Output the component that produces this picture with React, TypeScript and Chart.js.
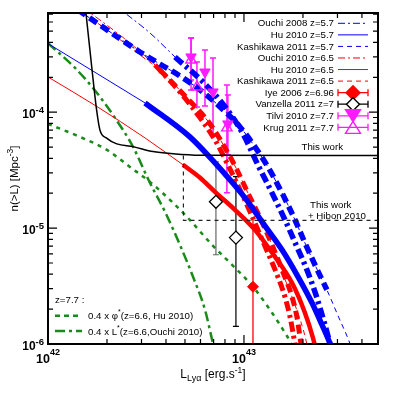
import React, { useEffect, useRef } from 'react';
import { Chart, registerables } from 'chart.js';

Chart.register(...registerables);

const FONT = '"Liberation Sans", Arial, Helvetica, sans-serif';

// ---- axes (log10 units) ----
const xLogMin = 42;
const xLogMax = 43.684;
const yLogMin = -6;
const yLogMax = -3.144;
const xDecades = [42, 43];
const yDecades = [-6, -5, -4];
const tickMultipliers = [1, 2, 3, 4, 5, 6, 7, 8, 9];
const xTickExponents = ['42', '43'];
const yTickExponents = ['-6', '-5', '-4'];

// ---- curves: log10 L [erg/s] and log10 n(>L) [Mpc^-3] ----
const thisWorkLogL = [42.191, 42.223, 42.248, 42.265, 42.299, 42.351, 42.434, 42.536, 42.638, 42.776, 43.7];
const thisWorkLogN = [-3.1, -3.607, -3.98, -4.153, -4.224, -4.273, -4.297, -4.34, -4.359, -4.372, -4.374];

const hibonLogL = [42.691, 42.691, 43.7];
const hibonLogN = [-4.374, -4.934, -4.934];

// Ouchi 2008 z=5.7
const ouchi08ThinLogL = [42.342, 42.393, 42.52, 42.648];
const ouchi08ThinLogN = [-3.075, -3.144, -3.316, -3.523];
const ouchi08ThickLogL = [42.648, 42.801, 42.908, 42.995, 43.071, 43.143, 43.209, 43.27, 43.321, 43.367, 43.413, 43.439, 43.449];
const ouchi08ThickLogN = [-3.523, -3.756, -3.963, -4.187, -4.454, -4.696, -4.928, -5.161, -5.359, -5.575, -5.834, -5.997, -6.066];

// Hu 2010 z=5.7
const hu57ThinLogL = [42.0, 42.245, 42.495];
const hu57ThinLogN = [-3.408, -3.661, -3.92];
const hu57ThickLogL = [42.495, 42.724, 42.852, 42.929, 43.005, 43.107, 43.194, 43.276, 43.347, 43.398, 43.439, 43.449];
const hu57ThickLogN = [-3.92, -4.213, -4.437, -4.584, -4.739, -4.98, -5.187, -5.42, -5.644, -5.834, -5.997, -6.049];

// Kashikawa 2011 z=5.7
const kash57ThinLogL = [42.153, 42.25, 42.469, 42.571, 42.673, 42.776, 42.878, 42.98, 43.056, 43.122, 43.194, 43.26, 43.311, 43.367, 43.423, 43.48, 43.541, 43.551];
const kash57ThinLogN = [-3.118, -3.23, -3.48, -3.584, -3.687, -3.808, -3.954, -4.127, -4.299, -4.472, -4.696, -4.928, -5.127, -5.334, -5.532, -5.756, -5.997, -6.049];
const kash57ThickLogL = [42.153, 42.25, 42.469, 42.571, 42.673, 42.776, 42.878, 42.98, 43.056, 43.122, 43.194, 43.26, 43.311, 43.367, 43.423];
const kash57ThickLogN = [-3.118, -3.23, -3.48, -3.584, -3.687, -3.808, -3.954, -4.127, -4.299, -4.472, -4.696, -4.928, -5.127, -5.334, -5.532];

// Ouchi 2010 z=6.5
const ouchi10ThinLogL = [42.179, 42.265, 42.418, 42.546];
const ouchi10ThinLogN = [-3.101, -3.204, -3.403, -3.592];
const ouchi10ThickLogL = [42.546, 42.673, 42.776, 42.852, 42.918, 42.98, 43.031, 43.071, 43.122, 43.173, 43.209, 43.235, 43.26, 43.265];
const ouchi10ThickLogN = [-3.592, -3.825, -4.049, -4.239, -4.454, -4.67, -4.859, -5.015, -5.213, -5.42, -5.592, -5.765, -5.997, -6.049];

// Hu 2010 z=6.5
const hu65ThinLogL = [42.0, 42.245, 42.495, 42.689];
const hu65ThinLogN = [-3.696, -3.946, -4.222, -4.454];
const hu65ThickLogL = [42.689, 42.776, 42.852, 42.954, 43.056, 43.158, 43.245, 43.311, 43.352, 43.367];
const hu65ThickLogN = [-4.454, -4.566, -4.687, -4.842, -5.015, -5.247, -5.472, -5.73, -5.946, -6.049];

// Kashikawa 2011 z=6.5
const kash65ThinLogL = [42.143, 42.316, 42.469, 42.571, 42.699, 42.827, 42.898, 42.959, 43.02, 43.092, 43.143, 43.194, 43.26, 43.311, 43.327];
const kash65ThinLogN = [-3.101, -3.308, -3.506, -3.635, -3.859, -4.101, -4.291, -4.48, -4.696, -4.946, -5.144, -5.377, -5.661, -5.928, -6.049];
const kash65ThickLogL = [42.571, 42.699, 42.827, 42.898, 42.959, 43.02, 43.092, 43.143, 43.194, 43.245, 43.27, 43.291, 43.296];
const kash65ThickLogN = [-3.635, -3.859, -4.101, -4.291, -4.48, -4.696, -4.946, -5.144, -5.359, -5.592, -5.765, -5.997, -6.049];

// z=7.7 expectations
const phiScaledLogL = [42.0, 42.163, 42.301, 42.418, 42.52, 42.622, 42.704, 42.842, 42.954, 43.046, 43.143, 43.209, 43.24, 43.25];
const phiScaledLogN = [-4.101, -4.213, -4.325, -4.472, -4.601, -4.756, -4.894, -5.153, -5.342, -5.506, -5.73, -5.903, -5.997, -6.049];
const lstarScaledLogL = [42.0, 42.138, 42.25, 42.342, 42.434, 42.52, 42.597, 42.673, 42.74, 42.801, 42.842, 42.852];
const lstarScaledLogN = [-3.405, -3.618, -3.834, -4.049, -4.299, -4.609, -4.859, -5.144, -5.42, -5.704, -5.997, -6.066];

// ---- data points with error bars ----
const iyeLogL = [43.046];
const iyeLogN = [-5.506];
const iyeHiN = [-4.928];
const iyeLoN = [-7.0];

const vanzellaLogL = [42.857, 42.959];
const vanzellaLogN = [-4.773, -5.082];
const vanzellaHiN = [-4.428, -4.555];
const vanzellaLoN = [-5.23, -5.848];

const tilviLogL = [42.73, 42.801, 42.842, 42.918];
const tilviLogN = [-3.523, -3.653, -3.825, -4.101];
const tilviHiN = [-3.359, -3.463, -3.532, -3.851];
const tilviLoN = [-3.808, -3.946, -4.196, -4.368];

const krugLogL = [42.73, 42.76, 42.913];
const krugLogN = [-3.549, -3.782, -4.135];
const krugHiN = [-3.359, -3.566, -3.765];
const krugLoN = [-3.722, -3.954, -4.696];

// ---- legend texts ----
const legendLabels = [
  'Ouchi 2008 z=5.7',
  'Hu 2010 z=5.7',
  'Kashikawa 2011 z=5.7',
  'Ouchi 2010 z=6.5',
  'Hu 2010 z=6.5',
  'Kashikawa 2011 z=6.5',
  'Iye 2006 z=6.96',
  'Vanzella 2011 z=7',
  'Tilvi 2010 z=7.7',
  'Krug 2011 z=7.7',
];

const BLUE = '#0000ff';
const RED = '#ff0000';
const GREEN = '#1a8a1a';
const MAGENTA = '#ff1aff';
const DASH = [9, 5];
const DASHDOT = [10, 4, 3, 4];
const THIN_DASH = [5, 4];
const THIN_DASHDOT = [7, 3, 2, 3];

const P = (v: number) => Math.pow(10, v);
const toPts = (lx: number[], ly: number[]) => lx.map((v, i) => ({ x: P(v), y: P(ly[i]) }));

function curve(lx: number[], ly: number[], color: string, width: number, dash: number[] = [], smooth = true): any {
  return {
    data: toPts(lx, ly),
    showLine: true,
    borderColor: color,
    backgroundColor: color,
    borderWidth: width,
    borderDash: dash,
    borderCapStyle: 'butt',
    borderJoinStyle: 'round',
    pointRadius: 0,
    pointHoverRadius: 0,
    pointHitRadius: 0,
    fill: false,
    cubicInterpolationMode: smooth ? 'monotone' : 'default',
    tension: 0,
    clip: 0,
  };
}

function markers(lx: number[], ly: number[], style: string, radius: number, fillC: string, strokeC: string, bw: number, rotation = 0): any {
  return {
    data: toPts(lx, ly),
    showLine: false,
    pointStyle: style,
    pointRadius: radius,
    pointHoverRadius: radius,
    pointBackgroundColor: fillC,
    pointBorderColor: strokeC,
    pointBorderWidth: bw,
    pointRotation: rotation,
    clip: 0,
  };
}

const errorSets = [
  { lx: iyeLogL, hi: iyeHiN, lo: iyeLoN, colors: [RED], caps: false, width: 1.3 },
  { lx: vanzellaLogL, hi: vanzellaHiN, lo: vanzellaLoN, colors: ['#666666', '#000000'], caps: true, width: 1.2 },
  { lx: tilviLogL, hi: tilviHiN, lo: tilviLoN, colors: [MAGENTA, MAGENTA, MAGENTA, MAGENTA], caps: true, width: 1.5 },
  { lx: krugLogL, hi: krugHiN, lo: krugLoN, colors: [MAGENTA, MAGENTA, MAGENTA], caps: true, width: 1.5 },
];

type Seg = { t: string; size: number; dy?: number; bold?: boolean; italic?: boolean };
function fontOf(s: Seg) {
  return `${s.italic ? 'italic ' : ''}${s.bold ? 'bold ' : ''}${s.size}px ${FONT}`;
}
function drawSegs(ctx: CanvasRenderingContext2D, segs: Seg[], x: number, y: number, align: string) {
  let w = 0;
  for (const s of segs) {
    ctx.font = fontOf(s);
    w += ctx.measureText(s.t).width;
  }
  let cx = align === 'left' ? x : align === 'center' ? x - w / 2 : x - w;
  ctx.textAlign = 'left';
  ctx.textBaseline = 'alphabetic';
  for (const s of segs) {
    ctx.font = fontOf(s);
    ctx.fillText(s.t, cx, y + (s.dy || 0));
    cx += ctx.measureText(s.t).width;
  }
}

function hLine(ctx: CanvasRenderingContext2D, x0: number, x1: number, y: number, color: string, width: number, dash: number[]) {
  ctx.save();
  ctx.strokeStyle = color;
  ctx.lineWidth = width;
  ctx.setLineDash(dash);
  ctx.beginPath();
  ctx.moveTo(x0, y);
  ctx.lineTo(x1, y);
  ctx.stroke();
  ctx.restore();
}

function errLegend(ctx: CanvasRenderingContext2D, x0: number, x1: number, y: number, color: string) {
  ctx.save();
  ctx.strokeStyle = color;
  ctx.lineWidth = 1.3;
  ctx.beginPath();
  ctx.moveTo(x0, y);
  ctx.lineTo(x1, y);
  ctx.moveTo(x0, y - 3.5);
  ctx.lineTo(x0, y + 3.5);
  ctx.moveTo(x1, y - 3.5);
  ctx.lineTo(x1, y + 3.5);
  ctx.stroke();
  ctx.restore();
}

function diamond(ctx: CanvasRenderingContext2D, x: number, y: number, r: number, fillC: string, strokeC: string) {
  ctx.save();
  ctx.beginPath();
  ctx.moveTo(x, y - r);
  ctx.lineTo(x + r, y);
  ctx.lineTo(x, y + r);
  ctx.lineTo(x - r, y);
  ctx.closePath();
  ctx.fillStyle = fillC;
  ctx.fill();
  ctx.strokeStyle = strokeC;
  ctx.lineWidth = 1.4;
  ctx.stroke();
  ctx.restore();
}

function triangle(ctx: CanvasRenderingContext2D, x: number, y: number, w: number, h: number, down: boolean, fillC: string | null, strokeC: string) {
  ctx.save();
  ctx.beginPath();
  if (down) {
    ctx.moveTo(x - w / 2, y - h / 2);
    ctx.lineTo(x + w / 2, y - h / 2);
    ctx.lineTo(x, y + h / 2);
  } else {
    ctx.moveTo(x - w / 2, y + h / 2);
    ctx.lineTo(x + w / 2, y + h / 2);
    ctx.lineTo(x, y - h / 2);
  }
  ctx.closePath();
  if (fillC) {
    ctx.fillStyle = fillC;
    ctx.fill();
  }
  ctx.strokeStyle = strokeC;
  ctx.lineWidth = 1.4;
  ctx.stroke();
  ctx.restore();
}

const errorBarsPlugin = {
  id: 'errorBars',
  beforeDatasetsDraw(chart: any) {
    const { ctx, chartArea: a, scales } = chart;
    const xs = scales.x;
    const ys = scales.y;
    ctx.save();
    ctx.beginPath();
    ctx.rect(a.left, a.top, a.right - a.left, a.bottom - a.top);
    ctx.clip();
    for (const s of errorSets) {
      ctx.lineWidth = s.width;
      s.lx.forEach((lx: number, i: number) => {
        const px = xs.getPixelForValue(P(lx));
        const ph = ys.getPixelForValue(P(s.hi[i]));
        const pl = ys.getPixelForValue(P(s.lo[i]));
        ctx.strokeStyle = s.colors[i];
        ctx.beginPath();
        ctx.moveTo(px, ph);
        ctx.lineTo(px, pl);
        if (s.caps) {
          ctx.moveTo(px - 3, ph);
          ctx.lineTo(px + 3, ph);
          ctx.moveTo(px - 3, pl);
          ctx.lineTo(px + 3, pl);
        }
        ctx.stroke();
      });
    }
    ctx.restore();
  },
};

const decorPlugin = {
  id: 'decor',
  afterDraw(chart: any) {
    const { ctx, chartArea: a, scales } = chart;
    const xs = scales.x;
    const ys = scales.y;
    ctx.save();
    // minor / major ticks on all four sides
    ctx.strokeStyle = '#000';
    ctx.lineWidth = 1.2;
    ctx.beginPath();
    for (const d of xDecades) {
      for (const m of tickMultipliers) {
        const v = m * P(d);
        if (v < xs.min * 0.999 || v > xs.max * 1.001) continue;
        const px = xs.getPixelForValue(v);
        const len = m === 1 ? 9 : 5;
        ctx.moveTo(px, a.bottom);
        ctx.lineTo(px, a.bottom - len);
        ctx.moveTo(px, a.top);
        ctx.lineTo(px, a.top + len);
      }
    }
    for (const d of yDecades) {
      for (const m of tickMultipliers) {
        const v = m * P(d);
        if (v < ys.min * 0.999 || v > ys.max * 1.001) continue;
        const py = ys.getPixelForValue(v);
        const len = m === 1 ? 9 : 5;
        ctx.moveTo(a.left, py);
        ctx.lineTo(a.left + len, py);
        ctx.moveTo(a.right, py);
        ctx.lineTo(a.right - len, py);
      }
    }
    ctx.stroke();
    ctx.lineWidth = 2;
    ctx.strokeRect(a.left, a.top, a.right - a.left, a.bottom - a.top);

    // tick labels
    ctx.fillStyle = '#000';
    xDecades.forEach((d, i) => {
      const px = xs.getPixelForValue(P(d));
      drawSegs(ctx, [
        { t: '10', size: 12.5, bold: true },
        { t: xTickExponents[i], size: 9, bold: true, dy: -7.5 },
      ], px, a.bottom + 18.5, 'center');
    });
    yDecades.forEach((d, i) => {
      const py = ys.getPixelForValue(P(d));
      drawSegs(ctx, [
        { t: '10', size: 12, bold: true },
        { t: yTickExponents[i], size: 9.5, bold: true, dy: -5 },
      ], a.left - 4, py + 6, 'right');
    });

    // axis titles
    drawSegs(ctx, [
      { t: 'L', size: 12 },
      { t: 'Lyα', size: 9, dy: 3 },
      { t: ' [erg.s', size: 12 },
      { t: '-1', size: 8.5, dy: -5 },
      { t: ']', size: 12 },
    ], (a.left + a.right) / 2, 377.5, 'center');
    ctx.save();
    ctx.translate(18, (a.top + a.bottom) / 2);
    ctx.rotate(-Math.PI / 2);
    drawSegs(ctx, [
      { t: 'n(>L) [Mpc', size: 11.5 },
      { t: '-3', size: 8.5, dy: -5 },
      { t: ']', size: 11.5 },
    ], 0, 0, 'center');
    ctx.restore();

    // top-right legend
    const tx = 334;
    const s0 = 338;
    const s1 = 368;
    const sc = (s0 + s1) / 2;
    legendLabels.forEach((lab, i) => {
      const cy = 23.3 + i * 11.56;
      ctx.fillStyle = '#000';
      ctx.font = `9.7px ${FONT}`;
      ctx.textAlign = 'right';
      ctx.textBaseline = 'middle';
      ctx.fillText(lab, tx, cy + 0.5);
      if (i === 0) hLine(ctx, s0, s1, cy, BLUE, 1, THIN_DASHDOT);
      if (i === 1) hLine(ctx, s0, s1, cy, BLUE, 1, []);
      if (i === 2) hLine(ctx, s0, s1, cy, BLUE, 1, THIN_DASH);
      if (i === 3) hLine(ctx, s0, s1, cy, RED, 1, THIN_DASHDOT);
      if (i === 4) hLine(ctx, s0, s1, cy, RED, 1, []);
      if (i === 5) hLine(ctx, s0, s1, cy, RED, 1, THIN_DASH);
      if (i === 6) {
        errLegend(ctx, s0, s1, cy, RED);
        diamond(ctx, sc, cy, 7, RED, RED);
      }
      if (i === 7) {
        errLegend(ctx, s0, s1, cy, '#000');
        diamond(ctx, sc, cy, 6.5, '#fff', '#000');
      }
      if (i === 8) {
        errLegend(ctx, s0, s1, cy, MAGENTA);
        triangle(ctx, sc, cy, 15, 12, true, MAGENTA, MAGENTA);
      }
      if (i === 9) {
        errLegend(ctx, s0, s1, cy, MAGENTA);
        triangle(ctx, sc, cy, 15, 12, false, null, MAGENTA);
      }
    });

    // bottom-left legend
    ctx.fillStyle = '#000';
    drawSegs(ctx, [{ t: 'z=7.7 :', size: 9.7 }], 55, 302.5, 'left');
    hLine(ctx, 55, 82, 315.7, GREEN, 2.5, [5, 4]);
    drawSegs(ctx, [
      { t: '0.4 x φ', size: 9.7 },
      { t: '*', size: 7, dy: -5 },
      { t: '(z=6.6, Hu 2010)', size: 9.7 },
    ], 88, 319.2, 'left');
    hLine(ctx, 55, 82, 331, GREEN, 2.5, DASHDOT);
    drawSegs(ctx, [
      { t: '0.4 x L', size: 9.7 },
      { t: '*', size: 7, dy: -5 },
      { t: '(z=6.6,Ouchi 2010)', size: 9.7 },
    ], 88, 334.5, 'left');

    // annotations
    drawSegs(ctx, [{ t: 'This work', size: 9.7 }], 343, 150.2, 'right');
    drawSegs(ctx, [{ t: 'This work', size: 9.7 }], 310, 207.8, 'left');
    drawSegs(ctx, [{ t: '+ Hibon 2010', size: 9.7 }], 308, 218.5, 'left');
    ctx.restore();
  },
};

export default function App() {
  const ref = useRef<HTMLCanvasElement>(null);
  useEffect(() => {
    const datasets: any[] = [
      markers(iyeLogL, iyeLogN, 'rectRot', 5.5, RED, RED, 1),
      markers(vanzellaLogL, vanzellaLogN, 'rectRot', 6.5, '#ffffff', '#000000', 1.3),
      markers(tilviLogL, tilviLogN, 'triangle', 6, MAGENTA, MAGENTA, 1, 180),
      markers(krugLogL, krugLogN, 'triangle', 6, 'rgba(0,0,0,0)', MAGENTA, 1.4),
      curve(thisWorkLogL, thisWorkLogN, '#000000', 1.5),
      curve(hibonLogL, hibonLogN, '#222222', 1.2, [4, 4], false),
      curve(hu57ThickLogL, hu57ThickLogN, BLUE, 5.5),
      curve(kash57ThickLogL, kash57ThickLogN, BLUE, 5.5, DASH),
      curve(ouchi08ThickLogL, ouchi08ThickLogN, BLUE, 5.5, DASHDOT),
      curve(hu65ThickLogL, hu65ThickLogN, RED, 4.5),
      curve(kash65ThickLogL, kash65ThickLogN, RED, 5, DASH),
      curve(ouchi10ThickLogL, ouchi10ThickLogN, RED, 5, DASHDOT),
      curve(hu57ThinLogL, hu57ThinLogN, BLUE, 1),
      curve(kash57ThinLogL, kash57ThinLogN, BLUE, 1, THIN_DASH),
      curve(ouchi08ThinLogL, ouchi08ThinLogN, BLUE, 1, THIN_DASHDOT),
      curve(hu65ThinLogL, hu65ThinLogN, RED, 1),
      curve(kash65ThinLogL, kash65ThinLogN, RED, 1, THIN_DASH),
      curve(ouchi10ThinLogL, ouchi10ThinLogN, RED, 1, THIN_DASHDOT),
      curve(phiScaledLogL, phiScaledLogN, GREEN, 2.5, [4, 5]),
      curve(lstarScaledLogL, lstarScaledLogN, GREEN, 2.5, DASHDOT),
    ];
    const chart = new Chart(ref.current as HTMLCanvasElement, {
      type: 'scatter',
      data: { datasets },
      options: {
        responsive: false,
        animation: false,
        devicePixelRatio: 1,
        events: [],
        layout: { padding: { top: 13, right: 15, left: 0, bottom: 0 } },
        plugins: { legend: { display: false }, tooltip: { enabled: false } },
        scales: {
          x: {
            type: 'logarithmic',
            min: P(xLogMin),
            max: P(xLogMax),
            grid: { display: false },
            border: { display: false },
            ticks: { display: false },
            afterFit: (s: any) => { s.height = 49; },
          },
          y: {
            type: 'logarithmic',
            min: P(yLogMin),
            max: P(yLogMax),
            grid: { display: false },
            border: { display: false },
            ticks: { display: false },
            afterFit: (s: any) => { s.width = 48; },
          },
        },
      } as any,
      plugins: [errorBarsPlugin, decorPlugin],
    });
    return () => chart.destroy();
  }, []);
  return (
    <div style={{ position: 'absolute', left: 0, top: 0, width: 393, height: 393, background: '#ffffff' }}>
      <canvas ref={ref} width={393} height={393} style={{ width: 393, height: 393, display: 'block' }} />
    </div>
  );
}
